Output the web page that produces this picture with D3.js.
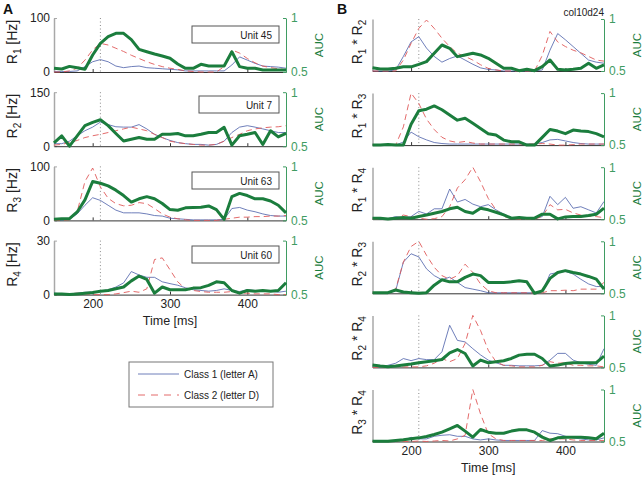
<!DOCTYPE html>
<html><head><meta charset="utf-8">
<script src="https://cdn.jsdelivr.net/npm/d3@7"></script>
<style>body{margin:0;background:#fff}svg{display:block;font-family:"Liberation Sans",Arial,sans-serif}</style>
</head><body><svg id="c" width="644" height="478"></svg>
<script>
// ---------------- data ----------------
const timeMs = [150,160,170,180,190,200,210,220,230,240,250,260,270,280,290,300,310,320,330,340,350,360,370,380,390,400,410,420,430,440,450];
const xTicks = [200,300,400];
const aucTicks = [0.5,1];
const stimOnset = 210;

// Panel A: firing rates [Hz] and AUC
const unitNames = ["Unit 45","Unit 7","Unit 63","Unit 60"];
const rateMax = [100,150,100,30];
const a1Class1 = [1,1,1,2,10,19,23,19,11,8,10,11,8,7,6,5,4,2,2,2,2,2,2,13,28,22,16,11,10,9,7];
const a1Class2 = [0,0,2,7,22,41,53,50,44,38,31,25,19,14,10,7,5,2,1,0,0,0,10,41,35,25,17,11,8,6,4];
const a1Auc = [0.534,0.528,0.552,0.54,0.525,0.657,0.765,0.827,0.858,0.858,0.80,0.71,0.688,0.667,0.648,0.627,0.574,0.534,0.534,0.571,0.556,0.556,0.556,0.688,0.55,0.534,0.534,0.519,0.519,0.519,0.519];
const a2Class1 = [7,7,14,29,43,53,67,60,54,53,53,60,48,33,24,16,10,7,5,5,3,5,14,38,53,57,53,48,43,38,38];
const a2Class2 = [3,5,10,16,24,29,33,38,43,48,53,48,43,33,24,14,10,7,5,3,3,5,14,24,33,43,48,51,53,54,57];
const a2Auc = [0.53,0.596,0.5,0.596,0.69,0.72,0.745,0.69,0.618,0.548,0.564,0.58,0.564,0.564,0.61,0.61,0.618,0.596,0.596,0.61,0.627,0.627,0.675,0.51,0.596,0.61,0.627,0.516,0.643,0.586,0.618];
const a3Class1 = [0.6,0.6,2,12,28,42,37,28,19,14,14,14,12,9,8,4,3,2,1,1,1,1,2,22,24,19,16,12,9,8,8];
const a3Class2 = [0,0,1,16,72,97,62,41,31,27,28,33,31,22,12,6,3,1,0,0,0,0,2,4,6,6,7,7,8,8,9];
const a3Auc = [0.51,0.516,0.516,0.578,0.69,0.86,0.844,0.82,0.78,0.73,0.67,0.70,0.72,0.70,0.656,0.60,0.594,0.616,0.62,0.622,0.634,0.60,0.51,0.72,0.75,0.73,0.70,0.70,0.68,0.64,0.57];
const a4Class1 = [0.8,0.4,0.4,0.8,1.3,1.3,1.9,2.7,4.2,6.5,12.8,10.9,9.6,9.6,7.1,6.1,5.2,3.8,2.7,2.3,1.9,2.3,3.2,2.3,1.7,2.7,2.3,1.9,1.9,1.3,1.9];
const a4Class2 = [0,0,0.4,0.8,0.4,0,0,0,0.4,1.1,1.9,1.3,3.2,19.5,20.4,13.8,7.1,3.2,2.3,1.7,1.3,1.3,1.3,1.7,0.8,0.8,0.4,0.4,0.4,0,0];
const a4Auc = [0.506,0.506,0.5,0.506,0.513,0.52,0.53,0.538,0.554,0.57,0.627,0.672,0.64,0.513,0.57,0.545,0.545,0.545,0.56,0.564,0.586,0.618,0.61,0.538,0.513,0.538,0.532,0.538,0.532,0.538,0.61];

// Panel B: normalised products and AUC
const pairLabels = [["1","2"],["1","3"],["1","4"],["2","3"],["2","4"],["3","4"]];
const b1Class1 = [0,0,0,0.02,0.28,0.56,0.66,0.44,0.28,0.17,0.24,0.29,0.21,0.13,0.06,0.03,0.02,0,0,0,0,0,0.02,0.40,0.72,0.6,0.47,0.34,0.21,0.17,0.15];
const b1Class2 = [0,0,0,0,0.21,0.53,0.82,0.98,0.82,0.63,0.47,0.34,0.28,0.21,0.12,0.05,0.02,0,0,0,0,0,0.3,0.76,0.56,0.47,0.40,0.35,0.28,0.21,0.19];
const b1Auc = [0.532,0.52,0.52,0.526,0.54,0.54,0.564,0.59,0.67,0.75,0.718,0.638,0.654,0.67,0.654,0.622,0.574,0.526,0.526,0.503,0.516,0.503,0.542,0.606,0.516,0.51,0.516,0.526,0.574,0.526,0.558];
const b2Class1 = [0,0,0,0,0.06,0.25,0.16,0.10,0.05,0.03,0.02,0.02,0.02,0.02,0.02,0.02,0.02,0.02,0.02,0.02,0.02,0.02,0.05,0.10,0.11,0.08,0.05,0.03,0.02,0.02,0.02];
const b2Class2 = [0,0,0,0,0.35,1.0,0.8,0.5,0.3,0.15,0.08,0.05,0.07,0.04,0.02,0.02,0.02,0.02,0.02,0.02,0.02,0.02,0.03,0.02,0,0,0.01,0.02,0.02,0.02,0.02];
const b2Auc = [0.5,0.5,0.506,0.5,0.5,0.70,0.83,0.845,0.877,0.84,0.79,0.74,0.758,0.71,0.66,0.61,0.597,0.548,0.532,0.532,0.5,0.5,0.574,0.65,0.635,0.61,0.645,0.635,0.63,0.61,0.58];
const b3Class1 = [0,0,0.01,0.05,0.03,0.05,0.15,0.1,0.2,0.2,0.58,0.33,0.38,0.29,0.24,0.28,0.18,0.1,0.03,0.02,0.02,0.02,0.05,0.44,0.28,0.42,0.21,0.24,0.18,0.12,0.34];
const b3Class2 = [0,0,0,0.02,0.08,0.05,0.02,0,0.01,0.05,0.24,0.6,0.76,1.0,0.72,0.4,0.18,0.05,0.02,0,0,0,0.05,0.28,0.18,0.19,0.12,0.08,0.06,0.05,0.03];
const b3Auc = [0.51,0.51,0.503,0.51,0.516,0.51,0.526,0.54,0.558,0.574,0.6,0.615,0.574,0.558,0.606,0.59,0.567,0.542,0.51,0.516,0.51,0.51,0.548,0.548,0.503,0.522,0.526,0.526,0.535,0.548,0.606];
const b4Class1 = [0,0,0,0.05,0.6,0.76,0.7,0.47,0.34,0.26,0.31,0.21,0.11,0.08,0.05,0.01,0.01,0.01,0.01,0.01,0.01,0.01,0.03,0.37,0.4,0.42,0.37,0.27,0.18,0.13,0.13];
const b4Class2 = [0,0,0,0.08,0.6,0.9,1.0,0.73,0.5,0.34,0.27,0.34,0.56,0.4,0.18,0.05,0.01,0.01,0.01,0.01,0.01,0.01,0.01,0.05,0.05,0.06,0.05,0.08,0.08,0.08,0.21];
const b4Auc = [0.506,0.506,0.506,0.532,0.513,0.506,0.5,0.506,0.578,0.63,0.61,0.61,0.653,0.685,0.67,0.604,0.604,0.604,0.61,0.62,0.61,0.5,0.523,0.643,0.70,0.718,0.70,0.685,0.662,0.636,0.54];
const b5Class1 = [0.01,0.01,0.04,0.08,0.17,0.13,0.17,0.15,0.15,0.3,0.81,0.52,0.49,0.36,0.24,0.14,0.09,0.04,0.04,0.03,0.03,0.03,0.04,0.14,0.27,0.27,0.14,0.09,0.06,0.04,0.36];
const b5Class2 = [0,0,0.01,0.03,0.01,0.01,0.01,0.03,0.08,0.17,0.11,0.17,0.46,1.0,0.71,0.33,0.11,0.04,0.03,0.01,0.01,0.01,0.04,0.11,0.08,0.09,0.04,0.04,0.03,0.03,0.01];
const b5Auc = [0.522,0.513,0.506,0.513,0.522,0.532,0.545,0.554,0.564,0.576,0.64,0.672,0.634,0.513,0.57,0.545,0.554,0.564,0.586,0.618,0.627,0.627,0.586,0.513,0.522,0.538,0.545,0.545,0.545,0.545,0.608];
const b6Class1 = [0,0,0.01,0.02,0.02,0.08,0.05,0.05,0.1,0.12,0.13,0.1,0.1,0.05,0.03,0.05,0.03,0.02,0.02,0.02,0.02,0.02,0.21,0.16,0.15,0.1,0.07,0.05,0.03,0.03,0.07];
const b6Class2 = [0,0,0,0,0,0,0.01,0,0.01,0.02,0.01,0.05,0.12,1.0,0.53,0.15,0.05,0.02,0.02,0.02,0.02,0.02,0.02,0.05,0.05,0.05,0.03,0.02,0.02,0.02,0.02];
const b6Auc = [0.503,0.503,0.503,0.51,0.516,0.526,0.535,0.548,0.567,0.59,0.622,0.654,0.6,0.542,0.615,0.59,0.58,0.58,0.6,0.612,0.612,0.59,0.542,0.51,0.535,0.542,0.542,0.542,0.535,0.526,0.58];

const legendLabels = ["Class 1 (letter A)","Class 2 (letter D)"];

// ---------------- styles / layout ----------------
const C1 = "#4a5ea8", C2 = "#e05a5a", CG = "#1b7d3d", CGA = "#3f9c62";
const LA = {x0:54, x1:286, top0:18, step:74.2, h:54};
const LB = {x0:372.5, x1:604, top0:19, step:74.1, h:52};
const unitBoxes = [{x:192,y:26,w:87},{x:199,y:96,w:80},{x:192,y:172,w:87},{x:192,y:246,w:87}];

const svg = d3.select("#c");

const panelsA = [
  {c1:a1Class1,c2:a1Class2,auc:a1Auc},
  {c1:a2Class1,c2:a2Class2,auc:a2Auc},
  {c1:a3Class1,c2:a3Class2,auc:a3Auc},
  {c1:a4Class1,c2:a4Class2,auc:a4Auc}];
const panelsB = [
  {c1:b1Class1,c2:b1Class2,auc:b1Auc},
  {c1:b2Class1,c2:b2Class2,auc:b2Auc},
  {c1:b3Class1,c2:b3Class2,auc:b3Auc},
  {c1:b4Class1,c2:b4Class2,auc:b4Auc},
  {c1:b5Class1,c2:b5Class2,auc:b5Auc},
  {c1:b6Class1,c2:b6Class2,auc:b6Auc}];

function drawPanel(L, i, p, yMax, isA, last, labelFn) {
  const top = L.top0 + L.step*i, bot = top + L.h;
  const x = d3.scaleLinear().domain([150,450]).range([L.x0, L.x1]);
  const y = d3.scaleLinear().domain([0, yMax]).range([bot, top]);
  const ya = d3.scaleLinear().domain([0.5,1]).range([bot, top]);
  const g = svg.append("g");

  g.append("line").attr("x1",x(stimOnset)).attr("x2",x(stimOnset)).attr("y1",top).attr("y2",bot)
    .attr("stroke","#8a8a8a").attr("stroke-width",1).attr("stroke-dasharray","1,2.5");

  const la = g.append("g").attr("transform",`translate(${L.x0},0)`)
    .call(d3.axisLeft(y).tickValues(isA ? [0,yMax] : []).tickSize(-3).tickSizeOuter(0).tickPadding(4));
  la.attr("font-family",null).attr("font-size",null);
  la.select(".domain").attr("stroke","#a8a8a8").attr("stroke-width",1.5);
  la.selectAll(".tick line").attr("stroke","#a8a8a8");
  la.selectAll("text").attr("font-size","12px").attr("fill","#222");

  const ba = g.append("g").attr("transform",`translate(0,${bot})`)
    .call(d3.axisBottom(x).tickValues(xTicks).tickSize(-3).tickSizeOuter(0).tickPadding(5));
  ba.attr("font-family",null).attr("font-size",null);
  ba.select(".domain").attr("stroke","#333");
  ba.selectAll(".tick line").attr("stroke","#333");
  ba.selectAll("text").attr("font-size","12px").attr("fill","#222")
    .style("display", last ? null : "none");

  const ra = g.append("g").attr("transform",`translate(${L.x1},0)`)
    .call(d3.axisRight(ya).tickValues(aucTicks).tickFormat(d3.format("~g")).tickSize(-3).tickSizeOuter(0).tickPadding(5));
  ra.attr("font-family",null).attr("font-size",null);
  ra.select(".domain").attr("stroke",CGA);
  ra.selectAll(".tick line").attr("stroke",CGA);
  ra.selectAll("text").attr("font-size","12px").attr("fill",CGA);

  const line = (sc) => d3.line().x((d,j)=>x(timeMs[j])).y(d=>sc(d));
  g.append("path").datum(p.c1).attr("d",line(y)).attr("fill","none").attr("stroke",C1).attr("stroke-width",0.8);
  g.append("path").datum(p.c2).attr("d",line(y)).attr("fill","none").attr("stroke",C2).attr("stroke-width",0.9).attr("stroke-dasharray","6,4");
  g.append("path").datum(p.auc).attr("d",line(ya)).attr("fill","none").attr("stroke",CG).attr("stroke-width",3).attr("stroke-linejoin","round");

  const cy = (top+bot)/2;
  g.append("text").attr("transform",`translate(${L.x1+37},${cy}) rotate(-90)`).attr("text-anchor","middle")
    .attr("font-size","11.5px").attr("fill",CG).text("AUC");

  const yl = g.append("text").attr("transform",`translate(${isA ? L.x0-37.5 : L.x0-11},${cy-3}) rotate(-90)`)
    .attr("text-anchor","middle").attr("font-size","14px").attr("fill","#222");
  labelFn(yl);

  if (last) {
    svg.append("text").attr("x",(L.x0+L.x1)/2).attr("y",bot+30).attr("text-anchor","middle")
      .attr("font-size","12.5px").attr("fill","#222").text("Time [ms]");
  }
  return g;
}

panelsA.forEach((p,i)=>{
  const g = drawPanel(LA, i, p, rateMax[i], true, i===3, (t)=>{
    t.append("tspan").text("R");
    t.append("tspan").attr("dy",4).attr("font-size","10px").text(String(i+1));
    t.append("tspan").attr("dy",-4).text(" [Hz]");
  });
  const b = unitBoxes[i];
  g.append("rect").attr("x",b.x).attr("y",b.y).attr("width",b.w).attr("height",17)
    .attr("fill","#fff").attr("stroke","#555").attr("stroke-width",1);
  g.append("text").attr("x",b.x+b.w-7).attr("y",b.y+12.5).attr("text-anchor","end")
    .attr("font-size","10px").attr("fill","#222").text(unitNames[i]);
});

panelsB.forEach((p,i)=>{
  drawPanel(LB, i, p, 1, false, i===5, (t)=>{
    const pr = pairLabels[i];
    t.append("tspan").text("R");
    t.append("tspan").attr("dy",4).attr("font-size","10px").text(pr[0]);
    t.append("tspan").attr("dy",-4).text(" * R");
    t.append("tspan").attr("dy",4).attr("font-size","10px").text(pr[1]);
  });
});

svg.append("text").attr("x",3).attr("y",14).attr("font-size","14px").attr("font-weight","bold").attr("fill","#111").text("A");
svg.append("text").attr("x",337).attr("y",14).attr("font-size","14px").attr("font-weight","bold").attr("fill","#111").text("B");
svg.append("text").attr("x",604).attr("y",16).attr("text-anchor","end").attr("font-size","10px").attr("fill","#222").text("col10d24");

const lg = svg.append("g");
lg.append("rect").attr("x",129).attr("y",362).attr("width",144).attr("height",45)
  .attr("fill","#fff").attr("stroke","#777").attr("stroke-width",1);
[[C1,null,0.8],[C2,"7,6",0.9]].forEach((s,k)=>{
  const yy = 374 + k*21;
  lg.append("line").attr("x1",138).attr("x2",179).attr("y1",yy).attr("y2",yy)
    .attr("stroke",s[0]).attr("stroke-width",s[2]).attr("stroke-dasharray",s[1]);
  lg.append("text").attr("x",184).attr("y",yy+4).attr("font-size","10px").attr("fill","#222").text(legendLabels[k]);
});
</script>
</body></html>
